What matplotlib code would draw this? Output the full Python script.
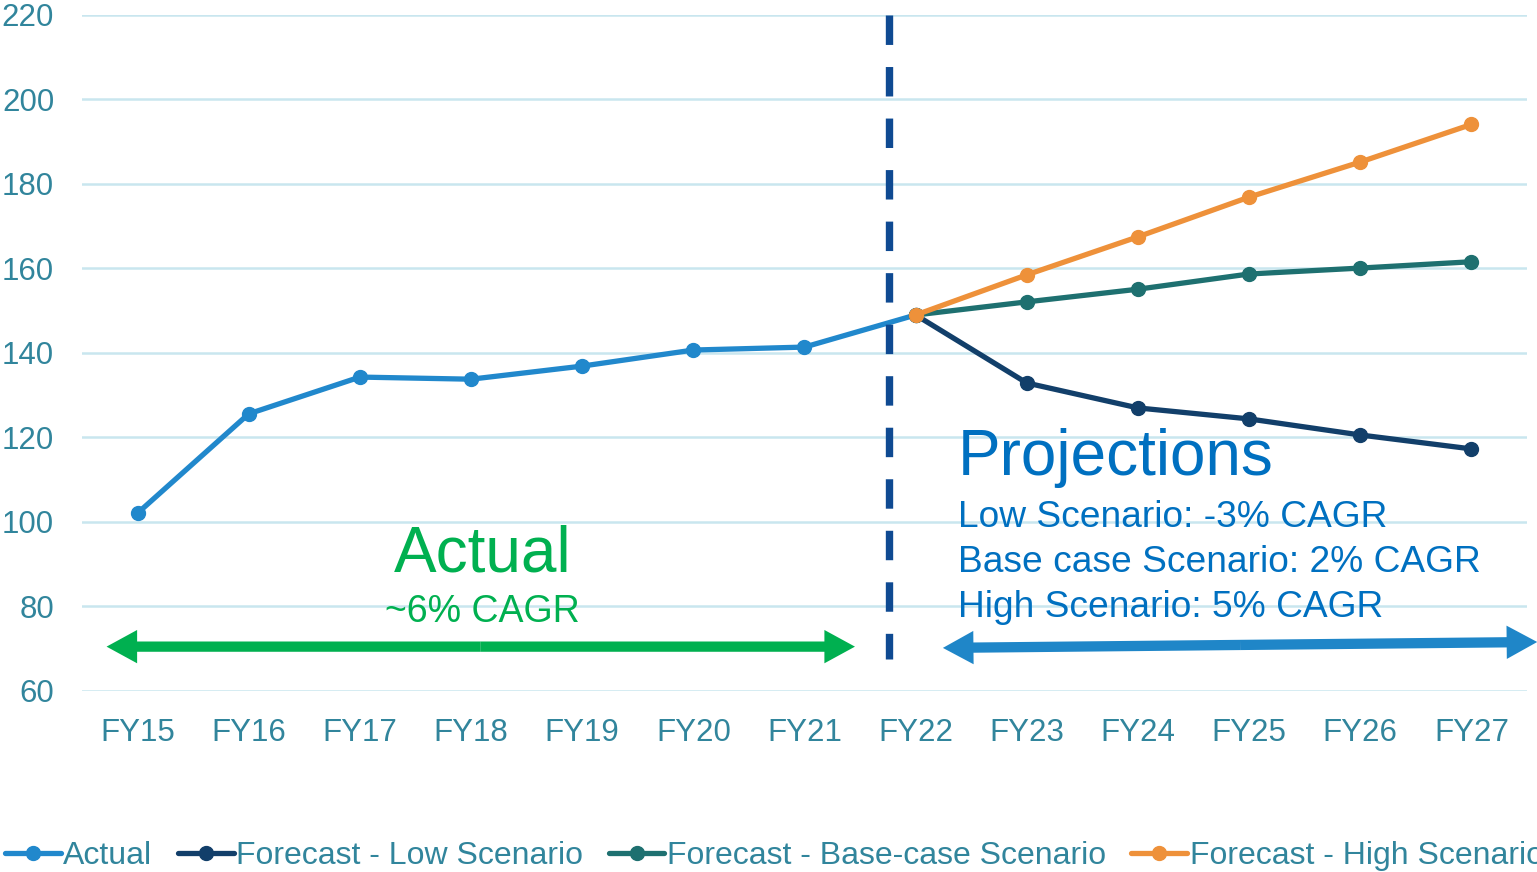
import matplotlib
matplotlib.use("Agg")
import matplotlib.pyplot as plt
from matplotlib.patches import FancyArrowPatch, ArrowStyle

# data
years = ["FY15", "FY16", "FY17", "FY18", "FY19", "FY20", "FY21",
         "FY22", "FY23", "FY24", "FY25", "FY26", "FY27"]
actual = [102.1, 125.6, 134.3, 133.8, 136.9, 140.7, 141.4, 149.0]
low = [149.0, 132.9, 127.0, 124.4, 120.6, 117.3]
base = [149.0, 152.1, 155.1, 158.7, 160.1, 161.6]
high = [149.0, 158.5, 167.5, 176.9, 185.2, 194.1]
y_ticks = [60, 80, 100, 120, 140, 160, 180, 200, 220]

TEAL_TXT = "#31859C"
GRID = "#C9E6EF"
C_ACTUAL = "#2188CC"
C_LOW = "#123F6A"
C_BASE = "#1E7070"
C_HIGH = "#EE913A"
C_DASH = "#0F4A92"
C_GREEN = "#00B050"
C_BLUE_ARROW = "#1F86C8"
C_PROJ = "#0070C0"

plt.rcParams["font.family"] = ["Liberation Sans", "DejaVu Sans"]

fig = plt.figure(figsize=(15.37, 8.72), dpi=100)
ax = fig.add_axes([0.05335, 0.20757, 0.94014, 0.77523])

x_actual = list(range(len(actual)))
x_fc = list(range(len(actual) - 1, len(years)))

line_kw = dict(lw=3.8, marker="o", markersize=10, solid_capstyle="round")
ax.plot(x_actual, actual, color=C_ACTUAL, label="Actual", zorder=3, **line_kw)
ax.plot(x_fc, low, color=C_LOW, label="Forecast - Low Scenario", zorder=4, **line_kw)
ax.plot(x_fc, base, color=C_BASE, label="Forecast - Base-case Scenario", zorder=5, **line_kw)
ax.plot(x_fc, high, color=C_HIGH, label="Forecast - High Scenario", zorder=6, **line_kw)

# divider between actuals and projections
ax.plot([6.76, 6.76], [220, 67.6], color=C_DASH, lw=5.3, dashes=(4, 3),
        dash_capstyle="butt", zorder=7, clip_on=False)

ax.set_xlim(-0.5, 12.5)
ax.set_ylim(60, 220)
ax.set_xticks(range(len(years)))
ax.set_xticklabels(years)
ax.set_yticks(y_ticks)
ax.tick_params(axis="both", length=0, labelsize=22.5, labelcolor=TEAL_TXT)
ax.tick_params(axis="x", pad=19.5)
ax.tick_params(axis="y", pad=20)
ax.grid(axis="y", color=GRID, lw=1.8)
ax.set_axisbelow(True)
for s in ax.spines.values():
    s.set_visible(False)


def double_arrow(x0, y0, x1, y1, color):
    mx, my = (x0 + x1) / 2, (y0 + y1) / 2
    style = ArrowStyle.Simple(head_length=22, head_width=24, tail_width=7.4)
    for tx, ty in [(x0, y0), (x1, y1)]:
        ax.add_patch(FancyArrowPatch((mx, my), (tx, ty), arrowstyle=style,
                                     mutation_scale=1, lw=0, color=color,
                                     shrinkA=0, shrinkB=0, clip_on=False,
                                     zorder=8))


double_arrow(-0.279, 70.5, 6.454, 70.5, C_GREEN)
double_arrow(7.245, 70.2, 12.592, 71.6, C_BLUE_ARROW)

ax.text(3.105, 88.4, "Actual", color=C_GREEN, fontsize=46, ha="center", va="baseline")
ax.text(3.105, 76.3, "~6% CAGR", color=C_GREEN, fontsize=27, ha="center", va="baseline")

ax.text(7.38, 111.1, "Projections", color=C_PROJ, fontsize=46, ha="left", va="baseline")
notes = ["Low Scenario: -3% CAGR", "Base case Scenario: 2% CAGR", "High Scenario: 5% CAGR"]
for txt, yb in zip(notes, [98.8, 88.2, 77.5]):
    ax.text(7.38, yb, txt, color=C_PROJ, fontsize=26.7, ha="left", va="baseline")

fig.legend(loc="center left", bbox_to_anchor=(0.0033, 0.0185), ncol=4,
           frameon=False, fontsize=23, labelcolor=TEAL_TXT,
           handlelength=1.75, handletextpad=0.07, columnspacing=0.8,
           borderpad=0, borderaxespad=0, numpoints=1)

fig.savefig("out.png", dpi=100)
